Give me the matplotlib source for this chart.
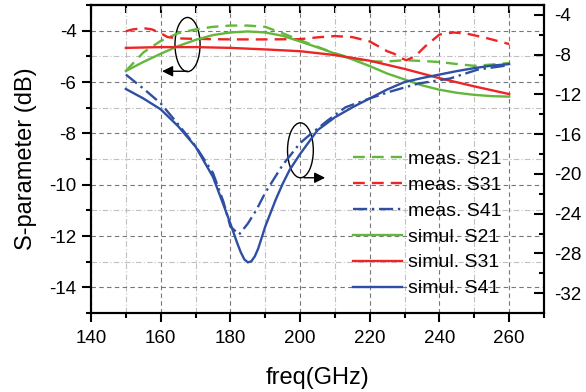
import numpy as np
import matplotlib
matplotlib.use("Agg")
from matplotlib import pyplot as plt
from matplotlib.patches import Ellipse
from matplotlib.ticker import MultipleLocator

plt.rcParams['font.family'] = ['Liberation Sans', 'DejaVu Sans']
plt.rcParams['axes.unicode_minus'] = False

# left axis (dB): S21, S31
f_s21_sim = [150, 155, 160, 165, 170, 175, 180, 185, 190, 195, 200, 205, 210,
             215, 220, 225, 230, 235, 240, 245, 250, 255, 260]
s21_sim = [-5.57, -5.22, -4.9, -4.6, -4.36, -4.17, -4.07, -4.03, -4.07, -4.2,
           -4.42, -4.65, -4.89, -5.12, -5.38, -5.67, -5.9, -6.13, -6.3, -6.42,
           -6.5, -6.55, -6.57]
f_s31_sim = [150, 160, 170, 180, 190, 200, 210, 220, 230, 240, 250, 260]
s31_sim = [-4.67, -4.64, -4.64, -4.67, -4.73, -4.8, -4.95, -5.17, -5.49,
           -5.85, -6.17, -6.47]
f_s21_meas = [150, 155, 160, 165, 170, 175, 180, 185, 190, 195, 200, 205, 210,
              215, 220, 225, 230, 235, 240, 245, 250, 255, 260]
s21_meas = [-5.57, -4.85, -4.4, -4.1, -3.95, -3.85, -3.8, -3.8, -3.85, -4.1,
            -4.37, -4.63, -4.88, -5.08, -5.2, -5.2, -5.15, -5.18, -5.22, -5.3,
            -5.37, -5.32, -5.26]
f_s31_meas = [150, 152, 155, 157.5, 160, 162, 165, 170, 180, 190, 200, 205, 210,
              215, 220, 225, 227, 229, 230.5, 233, 236, 240, 244, 248, 253, 260]
s31_meas = [-4.02, -3.95, -3.9, -3.95, -4.1, -4.25, -4.3, -4.32, -4.34, -4.34,
            -4.33, -4.26, -4.21, -4.25, -4.42, -4.8, -4.9, -5.07, -5.15, -5.0,
            -4.6, -4.15, -4.07, -4.12, -4.27, -4.52]

# right axis (dB): S41
f_s41_sim = [150, 155, 160, 165, 170, 175, 178, 180, 182, 183, 184, 185, 186,
             187, 188, 190, 193, 195, 197, 200, 205, 210, 215, 220, 225, 230,
             235, 240, 245, 250, 255, 260]
s41_sim = [-11.45, -12.4, -13.5, -15.2, -17.25, -20.3, -23.1, -25.0, -27.0,
           -27.9, -28.6, -28.9, -28.8, -28.3, -27.5, -25.3, -22.6, -21.0, -19.6,
           -18.0, -15.6, -14.3, -13.3, -12.4, -11.5, -10.75, -10.35, -10.0,
           -9.65, -9.35, -9.1, -8.95]
f_s41_meas = [150, 155, 160, 165, 170, 175, 178, 180, 182.5, 185, 187.5, 190,
              195, 200, 203, 208, 213, 220, 226, 234, 243, 251, 260]
s41_meas = [-10.0, -11.4, -12.9, -15.0, -17.2, -19.9, -22.8, -25.3, -26.1,
            -25.0, -23.6, -21.9, -19.1, -16.9, -16.0, -14.6, -13.3, -12.4,
            -11.7, -10.9, -10.4, -9.5, -9.05]

green = '#63b83c'
red = '#ee2526'
blue = '#2e4fa3'

fig = plt.figure(figsize=(5.86, 3.92), dpi=100)
ax = fig.add_axes([0.1553, 0.2015, 0.773, 0.7857])
ax2 = ax.twinx()

lw = 1.7
l1, = ax.plot(f_s21_meas, s21_meas, color=green, lw=lw, dashes=(5, 3), label='meas. S21')
l2, = ax.plot(f_s31_meas, s31_meas, color=red, lw=lw, dashes=(5, 3), label='meas. S31')
l4, = ax.plot(f_s21_sim, s21_sim, color=green, lw=lw, label='simul. S21')
l5, = ax.plot(f_s31_sim, s31_sim, color=red, lw=lw, label='simul. S31')
l3, = ax2.plot(f_s41_meas, s41_meas, color=blue, lw=lw, dashes=(6, 2, 1, 2), label='meas. S41')
l6, = ax2.plot(f_s41_sim, s41_sim, color=blue, lw=lw, label='simul. S41')

ax.set_xlim(140, 270)
ax.set_ylim(-15, -3)
ax2.set_ylim(-34, -3)

ax.set_xticks(np.arange(140, 261, 20))
ax.xaxis.set_minor_locator(MultipleLocator(10))
ax.set_yticks(np.arange(-14, -3, 2))
ax.yaxis.set_minor_locator(MultipleLocator(1))
ax2.set_yticks(np.arange(-32, -3, 4))
ax2.yaxis.set_minor_locator(MultipleLocator(2))

ax.grid(which='major', color='#777777', ls=(0, (4, 3)), lw=0.8)
ax.grid(which='minor', color='#c0c0c0', ls=(0, (5, 2, 1, 2)), lw=0.8)
ax.set_axisbelow(True)

for a in (ax, ax2):
    for s in a.spines.values():
        s.set_linewidth(1.5)

ax.tick_params(axis='both', which='major', direction='out', length=6.5, width=1.5,
               labelsize=13.5, pad=4)
ax.tick_params(axis='x', which='major', pad=6)
ax.tick_params(axis='both', which='minor', direction='out', length=3.5, width=1.5)
ax2.tick_params(axis='y', which='major', direction='in', length=7, width=1.5,
                labelsize=13.5, pad=7)
ax2.tick_params(axis='y', which='minor', direction='in', length=3.5, width=1.5)

top = ax.secondary_xaxis('top')
top.set_xticks(np.arange(140, 271, 10))
top.tick_params(direction='in', length=6, width=1.5, labeltop=False)
top.spines['top'].set_linewidth(1.5)

ax.set_xlabel('freq(GHz)', fontsize=17, labelpad=14)
ax.set_ylabel('S-parameter (dB)', fontsize=17, labelpad=9)

# ellipses and arrows marking which axis each group uses
ax.add_patch(Ellipse((167.7, -4.54), 7.2, 2.11, fill=False, ec='black', lw=1))
ax.annotate('', xy=(159.6, -5.58), xytext=(168.5, -5.58),
            arrowprops=dict(arrowstyle='-|>', color='black', lw=1, mutation_scale=16))
ax.add_patch(Ellipse((200.1, -8.66), 7.4, 2.14, fill=False, ec='black', lw=1))
ax.annotate('', xy=(208.0, -9.73), xytext=(200.3, -9.73),
            arrowprops=dict(arrowstyle='-|>', color='black', lw=1, mutation_scale=16))

leg = ax2.legend(handles=[l1, l2, l3, l4, l5, l6], loc='lower right',
                 bbox_to_anchor=(0.94, 0.0), frameon=False, fontsize=14,
                 handlelength=2.5, handletextpad=0.3, labelspacing=0.43,
                 borderpad=0.3)

fig.savefig('out.png', dpi=100)
